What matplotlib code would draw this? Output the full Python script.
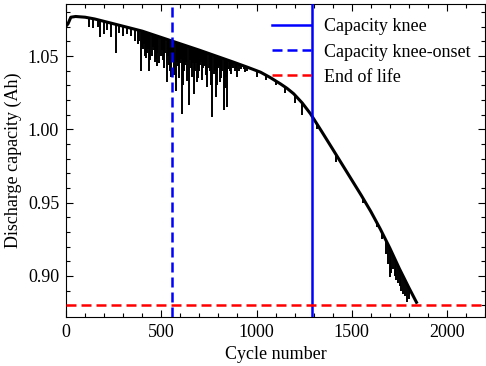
import numpy as np
import matplotlib.pyplot as plt
from matplotlib.ticker import MultipleLocator

# baseline of the discharge capacity curve
cycles = [0, 10, 25, 50, 100, 150, 250, 400, 550, 700, 880, 950, 1021, 1070,
          1126, 1160, 1195, 1240, 1283, 1340, 1400, 1450, 1500, 1550, 1600,
          1650, 1700, 1750, 1800, 1840]
capacity = [1.0705, 1.072, 1.0765, 1.077, 1.0765, 1.0753, 1.072, 1.067, 1.0605,
            1.054, 1.0458, 1.0425, 1.039, 1.0355, 1.031, 1.028, 1.0243, 1.018,
            1.0107, 0.999, 0.9865, 0.976, 0.9655, 0.955, 0.944, 0.932, 0.919,
            0.905, 0.892, 0.882]

# downward dips: cycle, top of the dip, bottom of the dip
dip_cycles = [120, 140, 165, 180, 201, 215, 236, 262, 280, 297, 320, 340, 360,
              375, 385, 393, 398, 405, 410, 415, 420, 425, 430, 436, 442, 450,
              455, 460, 465, 470, 475, 480, 488, 497, 503, 510, 515, 520, 529,
              535, 540, 545, 550, 555, 560, 568, 576, 582, 590, 595, 600, 605,
              611, 615, 620, 625, 630, 637, 646, 650, 655, 660, 665, 672, 678,
              684, 689, 695, 700, 705, 710, 715, 720, 725, 730, 736, 742, 748,
              755, 762, 768, 775, 780, 785, 790, 795, 800, 805, 810, 815, 820,
              829, 833, 838, 843, 847, 853, 860, 865, 870, 875, 885, 893, 899,
              910, 920, 934, 940, 950, 970, 1000, 1050, 1100, 1150, 1200, 1240,
              1320, 1420, 1560, 1632, 1660, 1680, 1690, 1702, 1708, 1715, 1728,
              1735, 1745, 1754, 1760, 1770, 1780, 1789, 1800]
dip_top = [1.076, 1.0755, 1.0748, 1.0743, 1.0736, 1.0732, 1.0725, 1.0716, 1.071,
           1.0704, 1.0697, 1.069, 1.0683, 1.0678, 1.0675, 1.0672, 1.0671, 1.0668,
           1.0666, 1.0663, 1.0661, 1.0659, 1.0657, 1.0654, 1.0652, 1.0648, 1.0646,
           1.0644, 1.0642, 1.064, 1.0638, 1.0635, 1.0632, 1.0628, 1.0625, 1.0622,
           1.062, 1.0618, 1.0614, 1.0612, 1.0609, 1.0607, 1.0605, 1.0603, 1.0601,
           1.0597, 1.0594, 1.0591, 1.0588, 1.0586, 1.0583, 1.0581, 1.0579, 1.0577,
           1.0575, 1.0573, 1.057, 1.0567, 1.0563, 1.0562, 1.056, 1.0557, 1.0555,
           1.0552, 1.055, 1.0547, 1.0545, 1.0542, 1.054, 1.0538, 1.0535, 1.0533,
           1.0531, 1.0529, 1.0526, 1.0524, 1.0521, 1.0518, 1.0515, 1.0512, 1.0509,
           1.0506, 1.0504, 1.0501, 1.0499, 1.0498, 1.0495, 1.0493, 1.049, 1.0488,
           1.0486, 1.0482, 1.048, 1.0477, 1.0475, 1.0473, 1.047, 1.0467, 1.0465,
           1.0463, 1.046, 1.0456, 1.0452, 1.0449, 1.0444, 1.044, 1.0432, 1.043,
           1.0425, 1.0415, 1.040, 1.0368, 1.033, 1.0287, 1.0237, 1.018, 1.003,
           0.982, 0.953, 0.9363, 0.9296, 0.9244, 0.9218, 0.9185, 0.9169, 0.915,
           0.911, 0.9092, 0.9064, 0.904, 0.9024, 0.8998, 0.897, 0.895, 0.892]
dip_low = [1.070, 1.069, 1.070, 1.063, 1.065, 1.068, 1.063, 1.052, 1.066, 1.064,
           1.065, 1.064, 1.060, 1.058, 1.060, 1.040, 1.056, 1.055, 1.058, 1.050,
           1.049, 1.052, 1.055, 1.040, 1.047, 1.050, 1.056, 1.054, 1.046, 1.048,
           1.052, 1.0435, 1.045, 1.050, 1.054, 1.047, 1.042, 1.052, 1.032, 1.050,
           1.044, 1.040, 1.0356, 1.048, 1.046, 1.037, 1.0265, 1.046, 1.043, 1.035,
           1.045, 1.048, 1.0107, 1.030, 1.040, 1.044, 1.046, 1.033, 1.0163, 1.047,
           1.042, 1.036, 1.045, 1.0243, 1.040, 1.045, 1.032, 1.035, 1.040, 1.044,
           1.046, 1.034, 1.042, 1.043, 1.044, 1.037, 1.0288, 1.042, 1.040, 1.030,
           1.0084, 1.038, 1.040, 1.022, 1.030, 1.040, 1.042, 1.043, 1.032, 1.035,
           1.040, 1.0129, 1.028, 1.036, 1.038, 1.0152, 1.041, 1.040, 1.038, 1.043,
           1.042, 1.040, 1.042, 1.0356, 1.040, 1.041, 1.0413, 1.039, 1.040, 1.042,
           1.036, 1.034, 1.030, 1.025, 1.018, 1.010, 1.000, 0.978, 0.950, 0.9335,
           0.925, 0.915, 0.908, 0.8995, 0.902, 0.905, 0.900, 0.897, 0.895, 0.893,
           0.890, 0.888, 0.886, 0.8825, 0.884]

knee = 1290
knee_onset = 555
end_of_life = 0.88

plt.rcParams['font.family'] = ['Liberation Serif', 'DejaVu Serif']

fig = plt.figure(figsize=(4.86, 3.66), dpi=100)
ax = fig.add_axes([0.136, 0.134, 0.862, 0.855])

ax.plot(cycles, capacity, color='black', lw=2.2, zorder=2)
ax.vlines(dip_cycles, dip_low, dip_top, color='black', lw=1.4, zorder=2)

ax.axvline(knee, color='blue', lw=1.8, ls='-', label='Capacity knee', zorder=3)
ax.axvline(knee_onset, color='blue', lw=1.8, ls=(0, (4, 2)),
           label='Capacity knee-onset', zorder=3)
ax.axhline(end_of_life, color='red', lw=1.8, ls=(0, (4, 2)),
           label='End of life', zorder=3)

ax.set_xlim(0, 2200)
ax.set_ylim(0.872, 1.0855)
ax.xaxis.set_major_locator(MultipleLocator(500))
ax.xaxis.set_minor_locator(MultipleLocator(100))
ax.yaxis.set_major_locator(MultipleLocator(0.05))
ax.yaxis.set_minor_locator(MultipleLocator(0.01))
ax.tick_params(which='both', direction='in', top=True, right=True, labelsize=13)
ax.tick_params(which='major', length=5, width=0.8, pad=5)
ax.tick_params(which='minor', length=3, width=0.8)

ax.set_xlabel('Cycle number', fontsize=13, labelpad=4)
ax.set_ylabel('Discharge capacity (Ah)', fontsize=13, labelpad=4)

ax.legend(loc='upper right', frameon=False, fontsize=13, handlelength=2.2,
          labelspacing=0.45, borderaxespad=0.4, handletextpad=0.7)

fig.savefig('out.png', dpi=100)
